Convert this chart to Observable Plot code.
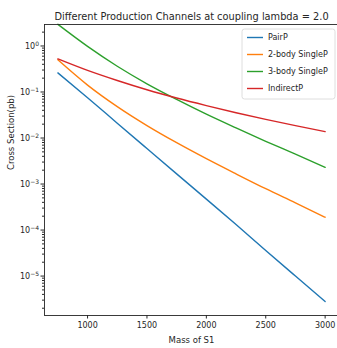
<!DOCTYPE html>
<html>
<head>
<meta charset="utf-8">
<script src="https://cdn.jsdelivr.net/npm/d3@7"></script>
<script src="https://cdn.jsdelivr.net/npm/@observablehq/plot@0.6"></script>
<style>
  html, body { margin: 0; padding: 0; background: white; }
  #chart { width: 337px; height: 348px; overflow: hidden; }
</style>
</head>
<body>
<div id="chart"></div>
<script>
const masses = [750, 1000, 1250, 1500, 1750, 2000, 2250, 2500, 2750, 3000];
const pairP = [0.26, 0.075, 0.021, 0.0059, 0.00166, 4.7e-4, 1.32e-4, 3.6e-5, 1.0e-5, 2.8e-6];
const twoBodySingleP = [0.50, 0.141, 0.048, 0.0186, 0.0079, 0.00355, 0.00166, 7.9e-4, 3.9e-4, 1.9e-4];
const threeBodySingleP = [2.95, 0.98, 0.363, 0.151, 0.069, 0.033, 0.0166, 0.0085, 0.00447, 0.0023];
const indirectP = [0.525, 0.295, 0.178, 0.112, 0.074, 0.0507, 0.0355, 0.0254, 0.0186, 0.0138];

const seriesNames = ["PairP", "2-body SingleP", "3-body SingleP", "IndirectP"];
const seriesColors = ["#1f77b4", "#ff7f0e", "#2ca02c", "#d62728"];
const seriesValues = [pairP, twoBodySingleP, threeBodySingleP, indirectP];

const xTicks = [1000, 1500, 2000, 2500, 3000];
const yMajorTicks = [1, 0.1, 0.01, 0.001, 1e-4, 1e-5];
const yMajorExponents = ["0", "−1", "−2", "−3", "−4", "−5"];

const titleText = "Different Production Channels at coupling lambda = 2.0";
const xLabel = "Mass of S1";
const yLabel = "Cross Section(pb)";

const data = [];
seriesNames.forEach((name, i) => {
  masses.forEach((m, j) => data.push({series: name, mass: m, value: seriesValues[i][j]}));
});

const yDomain = [1.39e-6, 2.93];
const yMinorTicks = [];
for (let e = -6; e <= 0; e++) {
  for (let k = 2; k <= 9; k++) {
    const v = k * Math.pow(10, e);
    if (v >= yDomain[0] && v <= yDomain[1]) yMinorTicks.push(v);
  }
}

const ink = "#262626";

const chart = Plot.plot({
  width: 337,
  height: 348,
  marginTop: 24,
  marginBottom: 33,
  marginLeft: 44,
  marginRight: -1,
  x: {domain: [637.5, 3112.5]},
  y: {type: "log", domain: yDomain},
  color: {domain: seriesNames, range: seriesColors},
  style: {fontFamily: "DejaVu Sans", fontSize: "8px", color: ink, background: "white", overflow: "visible"},
  marks: [
    Plot.line(data, {x: "mass", y: "value", z: "series", stroke: "series", strokeWidth: 1.4, curve: "monotone-x"}),
    Plot.axisX({ticks: xTicks, tickSize: 3.5, tickPadding: 3, tickFormat: d => String(d), label: null, stroke: ink, fill: ink, fontSize: 8}),
    Plot.axisY({ticks: yMajorTicks, tickSize: 3.5, tickPadding: 2, tickFormat: d => "10^" + yMajorExponents[yMajorTicks.indexOf(d)], label: null, stroke: ink, fill: ink, fontSize: 8}),
    Plot.axisY({ticks: yMinorTicks, tickSize: 2, tickFormat: () => "", label: null, stroke: ink}),
    Plot.frame({stroke: ink, strokeWidth: 0.9}),
    Plot.text([titleText], {frameAnchor: "top", dy: -11, text: d => d, fontSize: 9.8, fill: ink}),
    Plot.text([xLabel], {frameAnchor: "bottom", dy: 27, text: d => d, fontSize: 8.5, fill: ink}),
    Plot.text([yLabel], {frameAnchor: "left", dx: -33, rotate: -90, text: d => d, fontSize: 8.5, fill: ink})
  ]
});

const svg = d3.select(chart);

// Render y tick labels as 10 with a raised exponent
svg.selectAll("text").each(function() {
  const t = d3.select(this);
  const s = t.text();
  if (s.startsWith("10^")) {
    const exp = s.slice(3);
    t.text(null);
    t.append("tspan").text("10");
    t.append("tspan").attr("dy", "-0.45em").attr("font-size", "6px").text(exp);
  }
});

// Legend (matplotlib-style, upper right)
const lg = svg.append("g").attr("transform", "translate(242,29)").attr("text-anchor", "start");
lg.append("rect").attr("x", 0).attr("y", 0).attr("width", 93).attr("height", 70)
  .attr("rx", 2.5).attr("fill", "white").attr("fill-opacity", 0.8)
  .attr("stroke", "#d6d6d6").attr("stroke-width", 0.8);
seriesNames.forEach((name, i) => {
  const y = 8.5 + i * 17;
  lg.append("line").attr("x1", 5).attr("x2", 21).attr("y1", y).attr("y2", y)
    .attr("stroke", seriesColors[i]).attr("stroke-width", 1.4);
  lg.append("text").attr("x", 26).attr("y", y).attr("dy", "0.35em")
    .attr("text-anchor", "start")
    .attr("font-family", "DejaVu Sans").attr("font-size", 8).attr("fill", ink).text(name);
});

document.getElementById("chart").appendChild(chart);
</script>
</body>
</html>
